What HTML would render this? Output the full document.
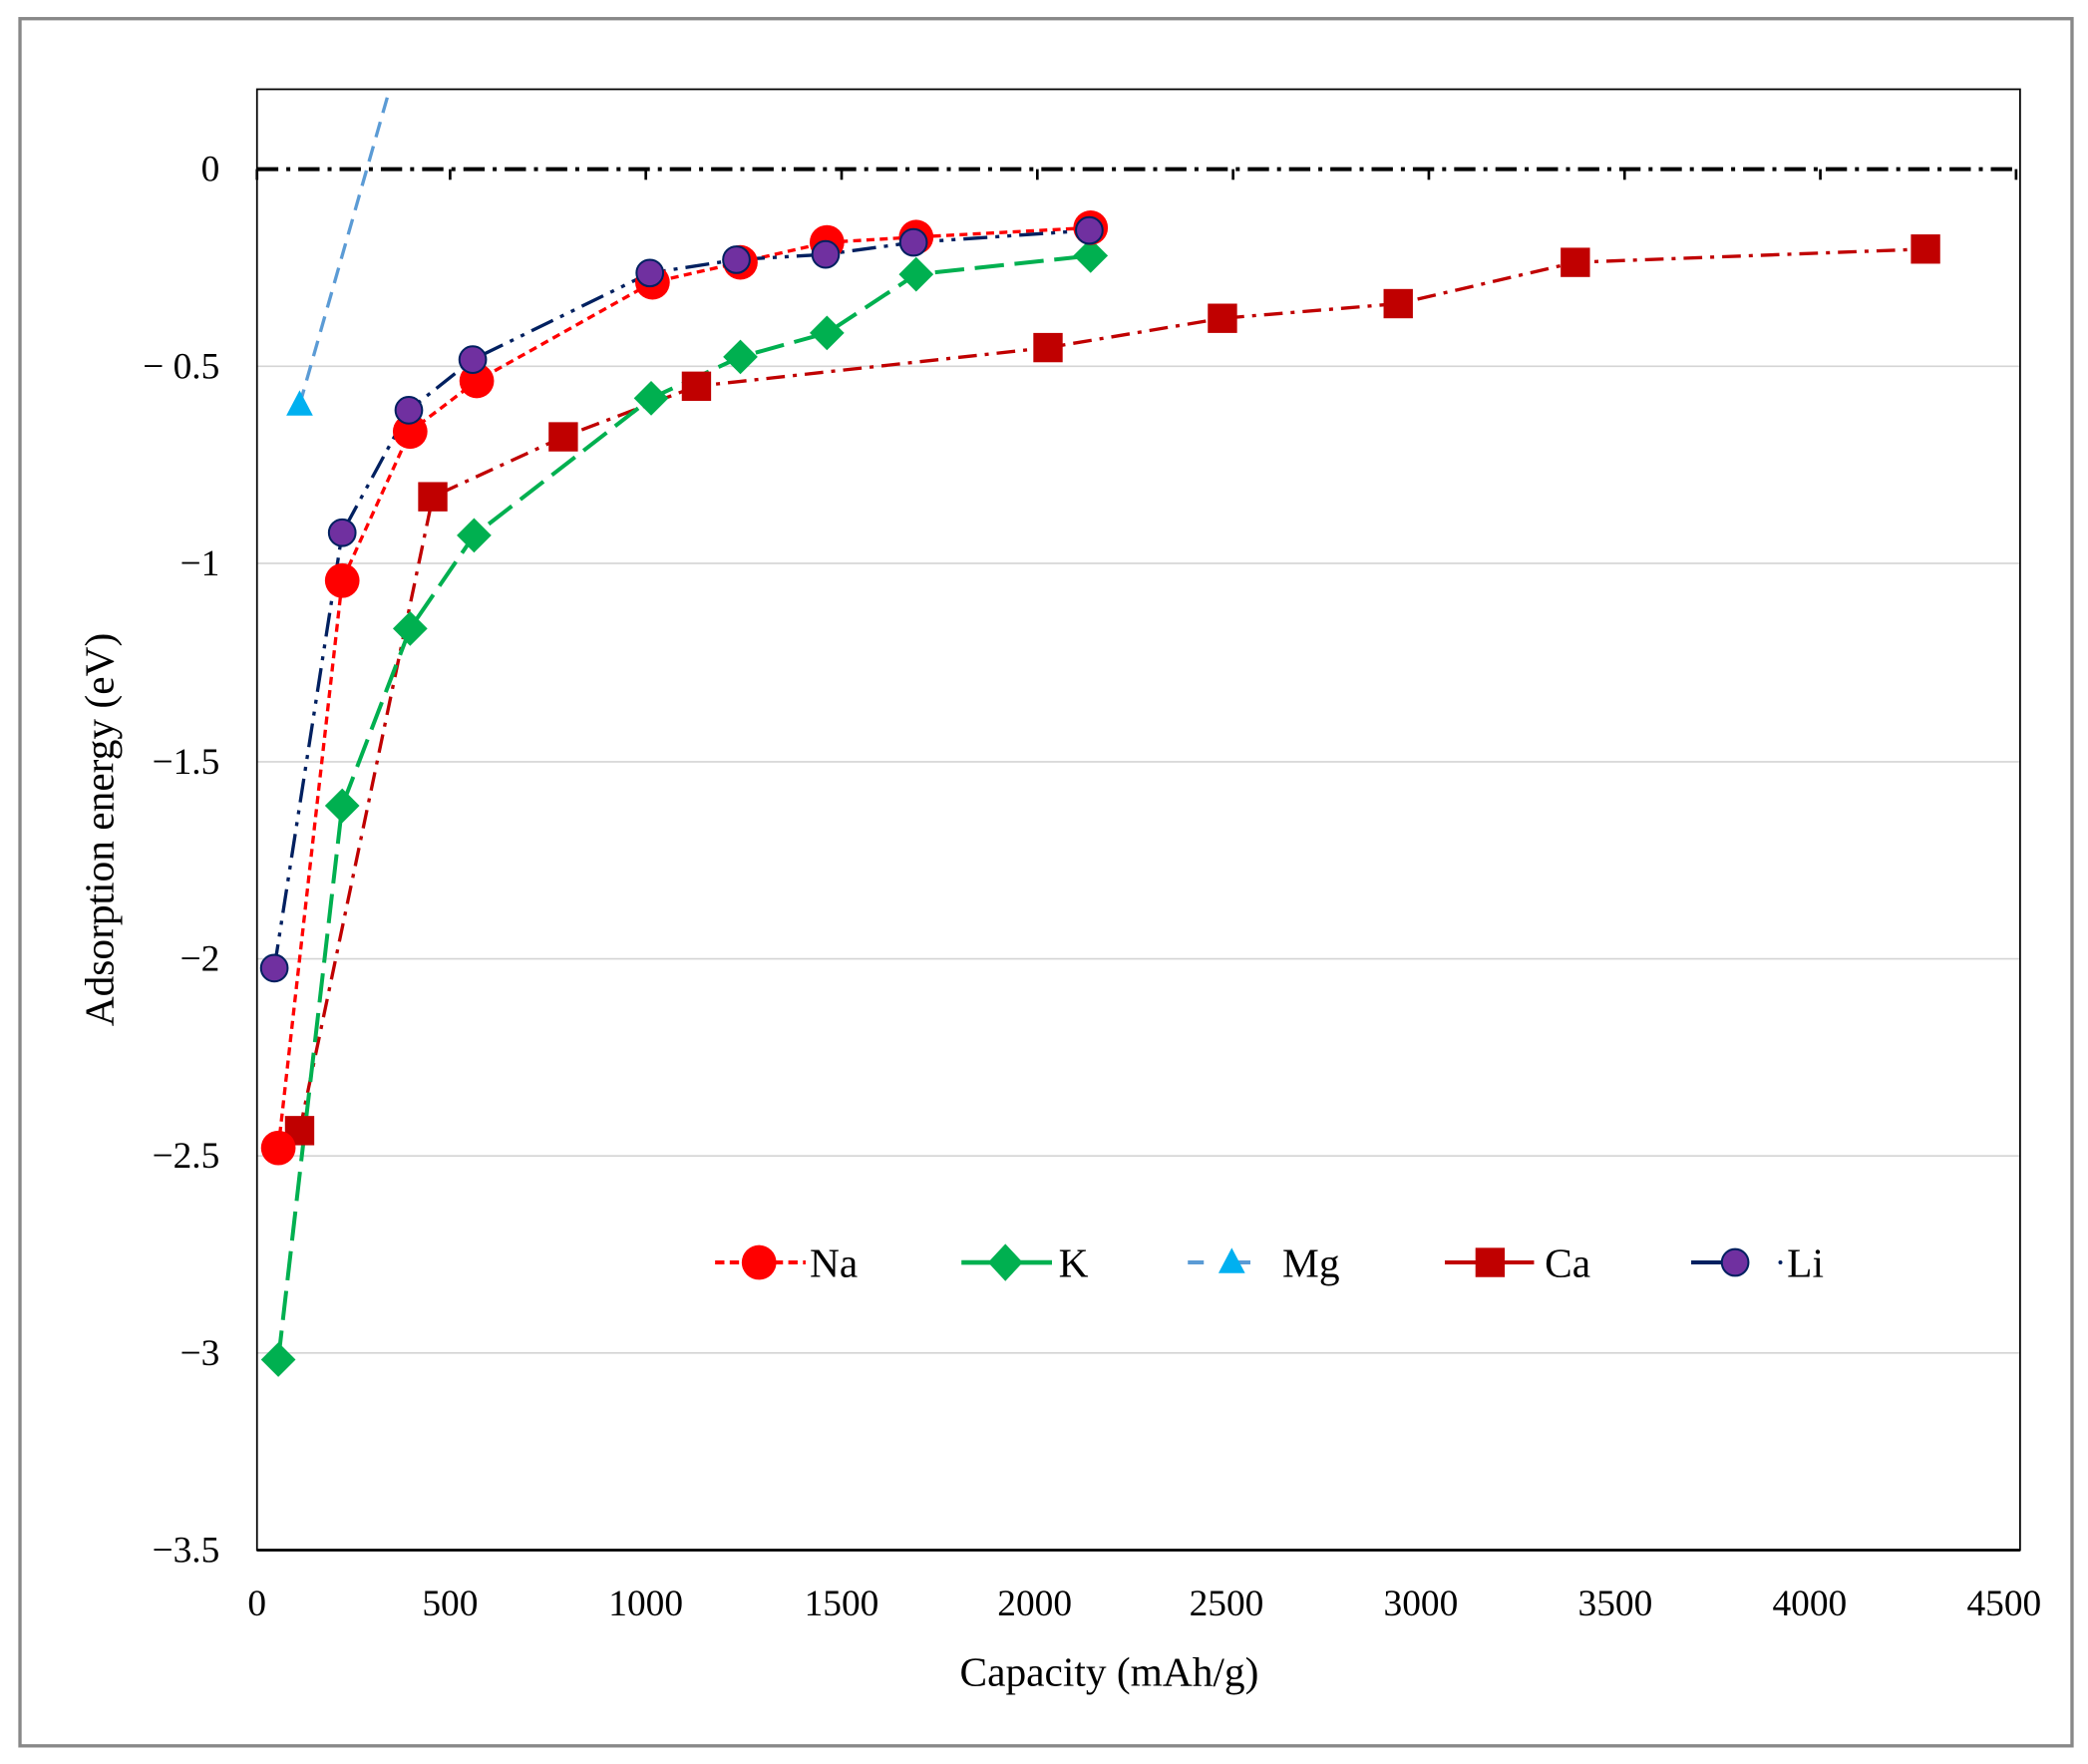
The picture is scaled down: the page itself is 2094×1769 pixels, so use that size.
<!DOCTYPE html>
<html><head><meta charset="utf-8"><style>
html,body{margin:0;padding:0;background:#fff;}
svg{display:block;}
text{font-family:"Liberation Serif",serif;fill:#000;}
</style></head><body>
<svg width="2094" height="1769" viewBox="0 0 1568 1324.6" xmlns="http://www.w3.org/2000/svg">
<rect x="0" y="0" width="1568" height="1324.6" fill="#fff"/>
<rect x="15" y="14" width="1541" height="1297" fill="none" stroke="#888" stroke-width="2.5"/>
<g stroke="#d4d4d4" stroke-width="1.2">
<line x1="193" x2="1517" y1="275" y2="275"/>
<line x1="193" x2="1517" y1="423" y2="423"/>
<line x1="193" x2="1517" y1="572" y2="572"/>
<line x1="193" x2="1517" y1="720" y2="720"/>
<line x1="193" x2="1517" y1="868" y2="868"/>
<line x1="193" x2="1517" y1="1016" y2="1016"/>
</g>
<rect x="193" y="67" width="1324" height="1097" fill="none" stroke="#000" stroke-width="1.3"/>
<line x1="193" x2="1517" y1="1164" y2="1164" stroke="#000" stroke-width="2"/>
<line x1="193" x2="1517" y1="127" y2="127" stroke="#000" stroke-width="3" stroke-dasharray="16,6,3,6"/>
<g stroke="#000" stroke-width="2">
<line x1="193" x2="193" y1="127" y2="135"/><line x1="338" x2="338" y1="127" y2="135"/><line x1="485" x2="485" y1="127" y2="135"/><line x1="632" x2="632" y1="127" y2="135"/><line x1="779" x2="779" y1="127" y2="135"/><line x1="926" x2="926" y1="127" y2="135"/><line x1="1073" x2="1073" y1="127" y2="135"/><line x1="1220" x2="1220" y1="127" y2="135"/><line x1="1367" x2="1367" y1="127" y2="135"/><line x1="1514" x2="1514" y1="127" y2="135"/>
</g>
<g font-size="28" text-anchor="end">
<text x="165" y="136">0</text>
<text x="165" y="284">− 0.5</text>
<text x="165" y="432">−1</text>
<text x="165" y="581">−1.5</text>
<text x="165" y="729">−2</text>
<text x="165" y="877">−2.5</text>
<text x="165" y="1025">−3</text>
<text x="165" y="1173">−3.5</text>
</g>
<g font-size="28" text-anchor="middle">
<text x="193" y="1213">0</text><text x="338" y="1213">500</text><text x="485" y="1213">1000</text><text x="632" y="1213">1500</text><text x="777" y="1213">2000</text><text x="921" y="1213">2500</text><text x="1067" y="1213">3000</text><text x="1213" y="1213">3500</text><text x="1359" y="1213">4000</text><text x="1505" y="1213">4500</text>
</g>
<text x="833" y="1266" font-size="31" text-anchor="middle">Capacity (mAh/g)</text>
<text transform="translate(85,623) rotate(-90)" font-size="31" text-anchor="middle">Adsorption energy (eV)</text>
<defs><clipPath id="c"><rect x="193" y="67" width="1324" height="1097"/></clipPath></defs>
<g clip-path="url(#c)" fill="none">
<polyline points="225,304 296,55" stroke="#5b9bd5" stroke-width="2.5" stroke-dasharray="12,7"/>
<polyline points="225,849 325,373 423,328 523,290 787,261 918,239 1050,228 1183,197 1446,187" stroke="#c00000" stroke-width="2.5" stroke-dasharray="14,6,3,6"/>
<polyline points="209,1021 257,605 308,472 356,402 489,299 556,268 621,250 688,206 819,192" stroke="#00b050" stroke-width="3" stroke-dasharray="22,8"/>
<polyline points="209,862 257,436 308,324 358,286 490,212 556,197 621,182 688,178 819,171" stroke="#ff0000" stroke-width="2.5" stroke-dasharray="6,4"/>
<polyline points="206,727 257,400 307,308 355,270 488,205 553,195 620,191 686,182 818,173" stroke="#002060" stroke-width="2.5" stroke-dasharray="18,6,3,6,3,6"/>
</g>
<polygon points="225,293 235,312 215,312" fill="#00b0f0"/>
<g fill="#c00000">
<rect x="214" y="838" width="22" height="22"/><rect x="314" y="362" width="22" height="22"/><rect x="412" y="317" width="22" height="22"/><rect x="512" y="279" width="22" height="22"/><rect x="776" y="250" width="22" height="22"/><rect x="907" y="228" width="22" height="22"/><rect x="1039" y="217" width="22" height="22"/><rect x="1172" y="186" width="22" height="22"/><rect x="1435" y="176" width="22" height="22"/>
</g>
<g fill="#00b050">
<polygon points="209,1008 222,1021 209,1034 196,1021"/><polygon points="257,592 270,605 257,618 244,605"/><polygon points="308,459 321,472 308,485 295,472"/><polygon points="356,389 369,402 356,415 343,402"/><polygon points="489,286 502,299 489,312 476,299"/><polygon points="556,255 569,268 556,281 543,268"/><polygon points="621,237 634,250 621,263 608,250"/><polygon points="688,193 701,206 688,219 675,206"/><polygon points="819,179 832,192 819,205 806,192"/>
</g>
<g fill="#ff0000">
<circle cx="209" cy="862" r="13"/><circle cx="257" cy="436" r="13"/><circle cx="308" cy="324" r="13"/><circle cx="358" cy="286" r="13"/><circle cx="490" cy="212" r="13"/><circle cx="556" cy="197" r="13"/><circle cx="621" cy="182" r="13"/><circle cx="688" cy="178" r="13"/><circle cx="819" cy="171" r="13"/>
</g>
<g fill="#7030a0" stroke="#002060" stroke-width="1.5">
<circle cx="206" cy="727" r="10"/><circle cx="257" cy="400" r="10"/><circle cx="307" cy="308" r="10"/><circle cx="355" cy="270" r="10"/><circle cx="488" cy="205" r="10"/><circle cx="553" cy="195" r="10"/><circle cx="620" cy="191" r="10"/><circle cx="686" cy="182" r="10"/><circle cx="818" cy="173" r="10"/>
</g>
<g font-size="31">
<line x1="537" x2="605" y1="948" y2="948" stroke="#ff0000" stroke-width="3" stroke-dasharray="7,4"/>
<circle cx="570" cy="948" r="13" fill="#ff0000"/>
<text x="608" y="959">Na</text>
<line x1="722" x2="790" y1="948" y2="948" stroke="#00b050" stroke-width="3.5"/>
<polygon points="755,934 768,948 755,962 742,948" fill="#00b050"/>
<text x="795" y="959">K</text>
<line x1="892" x2="958" y1="948" y2="948" stroke="#5b9bd5" stroke-width="3" stroke-dasharray="12,23"/>
<polygon points="925,937 935,956 915,956" fill="#00b0f0"/>
<text x="963" y="959">Mg</text>
<line x1="1085" x2="1152" y1="948" y2="948" stroke="#c00000" stroke-width="3"/>
<rect x="1108" y="937" width="22" height="22" fill="#c00000"/>
<text x="1160" y="959">Ca</text>
<line x1="1270" x2="1300" y1="948" y2="948" stroke="#002060" stroke-width="3"/>
<circle cx="1337" cy="948" r="1.5" fill="#002060"/>
<circle cx="1303" cy="948" r="10" fill="#7030a0" stroke="#002060" stroke-width="1.5"/>
<text x="1342" y="959">Li</text>
</g>
</svg>
</body></html>
